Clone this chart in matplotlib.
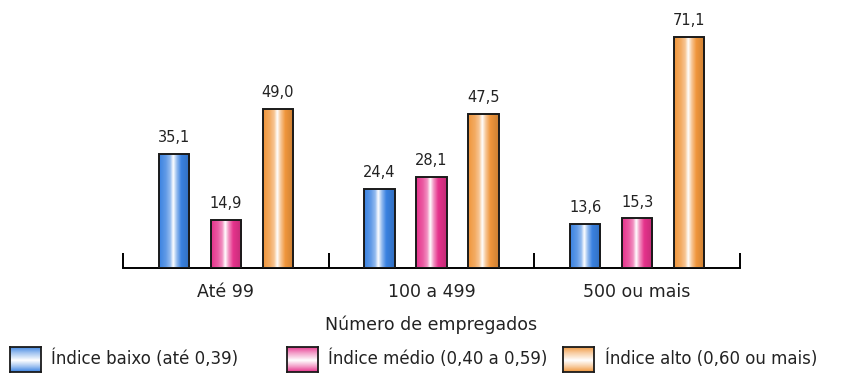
import numpy as np
import matplotlib
matplotlib.use("Agg")
import matplotlib.pyplot as plt
from matplotlib.colors import LinearSegmentedColormap, to_rgb

categories = ["Até 99", "100 a 499", "500 ou mais"]
series_names = ["Índice baixo (até 0,39)", "Índice médio (0,40 a 0,59)", "Índice alto (0,60 ou mais)"]
baixo = [35.1, 24.4, 13.6]
medio = [14.9, 28.1, 15.3]
alto = [49.0, 47.5, 71.1]
colors = ["#3a82e1", "#e6338c", "#f0963c"]
xlabel = "Número de empregados"

W, H = 853, 383
fig = plt.figure(figsize=(W / 100, H / 100), dpi=100)
ax = fig.add_axes([123 / W, 115 / H, (740 - 123) / W, 260 / H])

x = np.arange(len(categories))
offsets = [-0.253, 0.0, 0.253]
width = 0.148


def bar_cmap(c):
    rgb = np.array(to_rgb(c))
    light = rgb + (1 - rgb) * 0.45
    return LinearSegmentedColormap.from_list(
        "g", [(0.0, rgb), (0.22, rgb + (1 - rgb) * 0.2), (0.36, light), (0.46, (1, 1, 1)),
              (0.58, light), (0.72, rgb), (1.0, rgb * 0.85)])


grad = np.linspace(0, 1, 64).reshape(1, -1)
for vals, off, col in zip([baixo, medio, alto], offsets, colors):
    bars = ax.bar(x + off, vals, width, facecolor="none", edgecolor="#1a1a1a", linewidth=1.4, zorder=3)
    cmap = bar_cmap(col)
    for b, v in zip(bars, vals):
        x0, w = b.get_x(), b.get_width()
        im = ax.imshow(grad, cmap=cmap, aspect="auto", extent=(x0, x0 + w, 0, v),
                       interpolation="bilinear", zorder=2)
        im.set_clip_path(b)
        ax.text(x0 + w / 2, v + 2.6, f"{v:.1f}".replace(".", ","), ha="center", va="bottom",
                fontsize=10.5, color="#222222")

ax.set_xlim(-0.5, 2.5)
ax.set_ylim(0, 80)
for s in ["top", "right", "left"]:
    ax.spines[s].set_visible(False)
ax.spines["bottom"].set_linewidth(1.4)
ax.set_yticks([])
ax.set_xticks([-0.5, 0.5, 1.5, 2.5])
ax.set_xticklabels([])
ax.tick_params(axis="x", which="major", direction="in", length=11, width=1.4)
ax.set_xticks(x, minor=True)
ax.set_xticklabels(categories, minor=True, fontsize=12.5, color="#222222")
ax.tick_params(axis="x", which="minor", length=0, pad=11)
ax.set_xlabel(xlabel, fontsize=12.5, color="#222222", labelpad=10)

# legend swatches with a vertical gradient
vgrad = np.linspace(0, 1, 64).reshape(-1, 1)
legend_items = [(10, 51), (287, 328), (563, 605)]
for (sx, tx), col, name in zip(legend_items, colors, series_names):
    sax = fig.add_axes([sx / W, (383 - 372) / H, 31 / W, 25 / H])
    rgb = np.array(to_rgb(col))
    light = rgb + (1 - rgb) * 0.5
    cm = LinearSegmentedColormap.from_list("v", [(0, rgb), (0.25, light), (0.55, (1, 1, 1)), (0.8, light), (1, rgb)])
    sax.imshow(vgrad, cmap=cm, aspect="auto", interpolation="bilinear")
    sax.set_xticks([])
    sax.set_yticks([])
    for sp in sax.spines.values():
        sp.set_linewidth(1.3)
        sp.set_color("#1a1a1a")
    fig.text(tx / W, (383 - 359) / H, name, fontsize=12, color="#222222", va="center", ha="left")

fig.savefig("out.png", dpi=100)
